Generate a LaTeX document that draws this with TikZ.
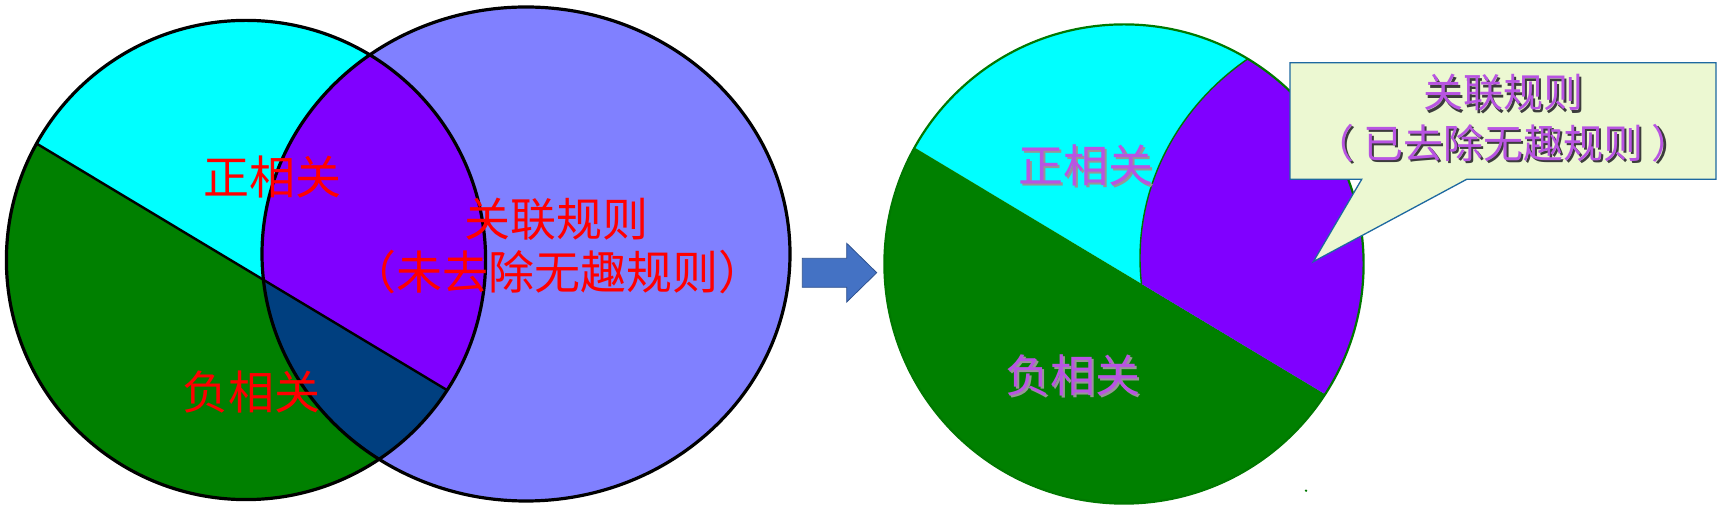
\documentclass[tikz,border=0pt]{standalone}
\usepackage{fontspec}
\setmainfont{Noto Sans CJK SC}
\usepackage{xcolor}
\usepackage{tikz}

\tikzset{
  vennText/.style={text=red,inner sep=0pt,outer sep=0pt,font=\fontsize{46}{46}\selectfont},
  pieText/.style={inner sep=0pt,outer sep=0pt,font=\fontsize{45}{45}\selectfont},
  noteText/.style={inner sep=0pt,outer sep=0pt,font=\fontsize{40}{40}\selectfont},
}

\begin{document}
\begin{tikzpicture}[x=1pt,y=1pt]
\definecolor{fillColor}{RGB}{255,255,255}
\path[use as bounding box,fill=fillColor] (0,0) rectangle (1718,508);

% venn before filtering
\definecolor{fillColor}{RGB}{128,128,255}
\path[fill=fillColor] (526,254) ellipse [x radius=264,y radius=247];
\begin{scope}
\path[clip] (246,248) circle [radius=239.6];
\definecolor{fillColor}{RGB}{0,255,255}
\path[fill=fillColor] (0,386.4) -- (500,86.1) -- (500,508) -- (0,508) -- cycle;
\definecolor{fillColor}{RGB}{0,128,0}
\path[fill=fillColor] (0,386.4) -- (500,86.1) -- (500,0) -- (0,0) -- cycle;
\path[clip] (526,254) ellipse [x radius=264,y radius=247];
\definecolor{fillColor}{RGB}{128,0,255}
\path[fill=fillColor] (0,386.4) -- (500,86.1) -- (500,508) -- (0,508) -- cycle;
\definecolor{fillColor}{RGB}{0,63,127}
\path[fill=fillColor] (0,386.4) -- (500,86.1) -- (500,0) -- (0,0) -- cycle;
\end{scope}
\begin{scope}
\path[clip] (246,248) circle [radius=239.6];
\definecolor{drawColor}{RGB}{0,0,0}
\path[draw=drawColor,line width=2.4pt] (0,386.4) -- (500,86.1);
\end{scope}
\definecolor{drawColor}{RGB}{0,0,0}
\path[draw=drawColor,line width=3.2pt] (246,248) circle [radius=239.6];
\path[draw=drawColor,line width=3.2pt] (526,254) ellipse [x radius=264,y radius=247];

\node[vennText] (posLeft) at (272,330.5) {正相关};
\node[vennText] (negLeft) at (251,115.5) {负相关};
\node[vennText] (ruleLeft) at (556,289) {关联规则};
\node[vennText] (ruleNoteLeft) at (557,235.5) {（未去除无趣规则）};

% arrow
\definecolor{fillColor}{RGB}{68,114,196}
\definecolor{drawColor}{RGB}{47,82,143}
\path[draw=drawColor,fill=fillColor,line width=0.8pt,line join=miter] (802.3,249.7) -- (846.7,249.7) -- (846.7,264.7) --
	(876.7,235.3) -- (846.7,206) -- (846.7,220.7) -- (802.3,220.7) -- cycle;

% pie after filtering
\begin{scope}[shift={(878,-4)}]
\begin{scope}
\path[clip] (246,248) circle [radius=239.6];
\definecolor{fillColor}{RGB}{0,255,255}
\path[fill=fillColor] (0,386.4) -- (500,86.1) -- (500,508) -- (0,508) -- cycle;
\definecolor{fillColor}{RGB}{0,128,0}
\path[fill=fillColor] (0,386.4) -- (500,86.1) -- (500,0) -- (0,0) -- cycle;
\path[clip] (526,254) ellipse [x radius=264,y radius=247];
\definecolor{fillColor}{RGB}{128,0,255}
\path[fill=fillColor] (0,386.4) -- (500,86.1) -- (500,508) -- (0,508) -- cycle;
\end{scope}
\begin{scope}
\path[clip] (246,248) circle [radius=239.6];
\path[clip] (0,386.4) -- (500,86.1) -- (500,508) -- (0,508) -- cycle;
\definecolor{drawColor}{RGB}{0,120,0}
\path[draw=drawColor,line width=1.4pt] (526,254) ellipse [x radius=264,y radius=247];
\end{scope}
\definecolor{drawColor}{RGB}{0,120,0}
\path[draw=drawColor,line width=2.2pt] (246,248) circle [radius=239.6];
\end{scope}
\definecolor{fillColor}{RGB}{0,120,0}
\path[fill=fillColor] (1306,17.3) circle [radius=1.3];

\definecolor{shadowColor}{RGB}{150,150,150}
\definecolor{labelColor}{RGB}{184,84,226}
\node[pieText,text=shadowColor] (posPieShadow) at (1087.7,341) {正相关};
\node[pieText,text=labelColor] (posPie) at (1085.7,343) {正相关};
\node[pieText,text=shadowColor] (negPieShadow) at (1075.4,131) {负相关};
\node[pieText,text=labelColor] (negPie) at (1073.4,133) {负相关};

% callout
\definecolor{fillColor}{RGB}{236,248,210}
\definecolor{drawColor}{RGB}{30,105,160}
\path[draw=drawColor,fill=fillColor,line width=1.3pt,line join=miter] (1290,445.3) -- (1716,445.3) -- (1716,328.7) --
	(1466.7,328.7) -- (1313.3,246.3) -- (1361.7,328.7) -- (1290,328.7) -- cycle;
\definecolor{shadowColor}{RGB}{60,60,60}
\node[noteText,text=shadowColor] (ruleNoteShadow) at (1505.5,412.5) {关联规则};
\node[noteText,text=labelColor] (ruleNote) at (1503,415) {关联规则};
\node[noteText,text=shadowColor] (ruleSubShadow) at (1505.5,362.5) {（ 已去除无趣规则 ）};
\node[noteText,text=labelColor] (ruleSub) at (1503,365) {（ 已去除无趣规则 ）};
\end{tikzpicture}
\end{document}
